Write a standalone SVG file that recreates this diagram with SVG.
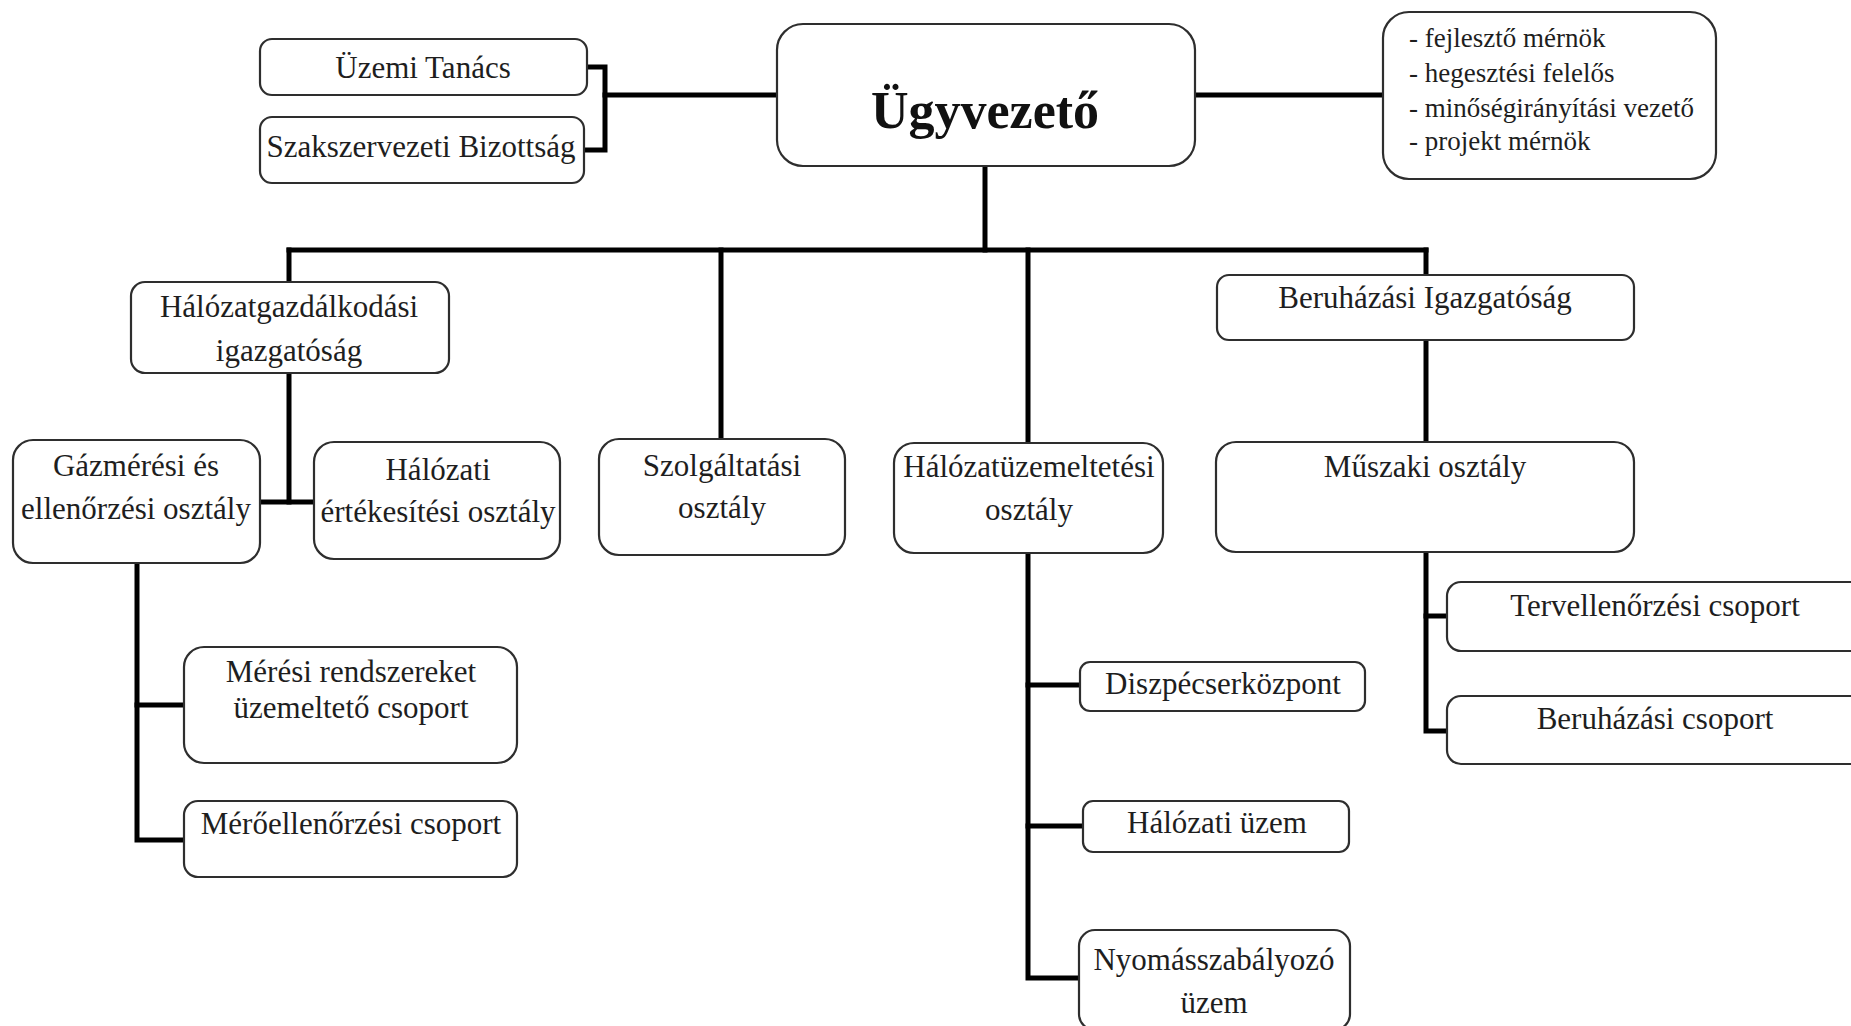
<svg xmlns="http://www.w3.org/2000/svg" width="1851" height="1026" viewBox="0 0 1851 1026">
<style>
.box{fill:#ffffff;stroke:#2e2e2e;stroke-width:2.2}
.t{font-family:"Liberation Serif","Times New Roman",serif;font-size:31px;fill:#1e1e1e;text-anchor:middle}
.l{font-family:"Liberation Serif","Times New Roman",serif;font-size:27px;fill:#1e1e1e}
.big{font-family:"Liberation Serif","Times New Roman",serif;font-size:52px;font-weight:bold;fill:#111;text-anchor:middle}
.c{fill:none;stroke:#000;stroke-width:5;stroke-linecap:square;stroke-linejoin:miter}
</style>
<rect width="1851" height="1026" fill="#ffffff"/>
<g id="connectors">
<path class="c" d="M587,67 H605 V150 H584"/>
<path class="c" d="M605,95 H778"/>
<path class="c" d="M1195,95 H1383"/>
<path class="c" d="M985,166 V250"/>
<path class="c" d="M289,250 H1426"/>
<path class="c" d="M289,250 V282"/>
<path class="c" d="M721,250 V439"/>
<path class="c" d="M1028,250 V443"/>
<path class="c" d="M1426,250 V275"/>
<path class="c" d="M289,373 V502"/>
<path class="c" d="M260,502 H314"/>
<path class="c" d="M137,563 V840 H184"/>
<path class="c" d="M137,705 H184"/>
<path class="c" d="M1028,553 V978 H1079"/>
<path class="c" d="M1028,685 H1080"/>
<path class="c" d="M1028,826 H1083"/>
<path class="c" d="M1426,340 V442"/>
<path class="c" d="M1426,552 V731 H1447"/>
<path class="c" d="M1426,616 H1447"/>
</g>
<g id="ugyvezeto">
<rect class="box" x="777" y="24" width="418" height="142" rx="26"/>
<text class="big" x="985" y="128">Ügyvezető</text>
</g>
<g id="uzemi-tanacs">
<rect class="box" x="260" y="39" width="327" height="56" rx="12"/>
<text class="t" x="423" y="78">Üzemi Tanács</text>
</g>
<g id="szakszervezeti-bizottsag">
<rect class="box" x="260" y="117" width="324" height="66" rx="12"/>
<text class="t" x="421" y="157">Szakszervezeti Bizottság</text>
</g>
<g id="munkatarsak">
<rect class="box" x="1383" y="12" width="333" height="167" rx="26"/>
<text class="l" x="1409" y="47">- fejlesztő mérnök</text>
<text class="l" x="1409" y="82">- hegesztési felelős</text>
<text class="l" x="1409" y="117">- minőségirányítási vezető</text>
<text class="l" x="1409" y="150">- projekt mérnök</text>
</g>
<g id="halozatgazdalkodasi">
<rect class="box" x="131" y="282" width="318" height="91" rx="14"/>
<text class="t" x="289" y="317">Hálózatgazdálkodási</text>
<text class="t" x="289" y="361">igazgatóság</text>
</g>
<g id="beruhazasi-igazgatosag">
<rect class="box" x="1217" y="275" width="417" height="65" rx="12"/>
<text class="t" x="1425" y="308">Beruházási Igazgatóság</text>
</g>
<g id="gazmeresi">
<rect class="box" x="13" y="440" width="247" height="123" rx="20"/>
<text class="t" x="136" y="476">Gázmérési és</text>
<text class="t" x="136" y="519">ellenőrzési osztály</text>
</g>
<g id="halozati-ertekesitesi">
<rect class="box" x="314" y="442" width="246" height="117" rx="20"/>
<text class="t" x="438" y="480">Hálózati</text>
<text class="t" x="438" y="522">értékesítési osztály</text>
</g>
<g id="szolgaltatasi">
<rect class="box" x="599" y="439" width="246" height="116" rx="20"/>
<text class="t" x="722" y="476">Szolgáltatási</text>
<text class="t" x="722" y="518">osztály</text>
</g>
<g id="halozatuzemeltetesi">
<rect class="box" x="894" y="443" width="269" height="110" rx="20"/>
<text class="t" x="1029" y="477">Hálózatüzemeltetési</text>
<text class="t" x="1029" y="520">osztály</text>
</g>
<g id="muszaki">
<rect class="box" x="1216" y="442" width="418" height="110" rx="20"/>
<text class="t" x="1425" y="477">Műszaki osztály</text>
</g>
<g id="meresi-rendszereket">
<rect class="box" x="184" y="647" width="333" height="116" rx="20"/>
<text class="t" x="351" y="682">Mérési rendszereket</text>
<text class="t" x="351" y="718">üzemeltető csoport</text>
</g>
<g id="meroellenorzesi">
<rect class="box" x="184" y="801" width="333" height="76" rx="14"/>
<text class="t" x="351" y="834">Mérőellenőrzési csoport</text>
</g>
<g id="diszpecserkozpont">
<rect class="box" x="1080" y="662" width="285" height="49" rx="10"/>
<text class="t" x="1223" y="694">Diszpécserközpont</text>
</g>
<g id="halozati-uzem">
<rect class="box" x="1083" y="801" width="266" height="51" rx="10"/>
<text class="t" x="1217" y="833">Hálózati üzem</text>
</g>
<g id="nyomasszabalyozo">
<rect class="box" x="1079" y="930" width="271" height="100" rx="16"/>
<text class="t" x="1214" y="970">Nyomásszabályozó</text>
<text class="t" x="1214" y="1013">üzem</text>
</g>
<g id="tervellenorzesi">
<rect class="box" x="1447" y="582" width="420" height="69" rx="14"/>
<text class="t" x="1655" y="616">Tervellenőrzési csoport</text>
</g>
<g id="beruhazasi-csoport">
<rect class="box" x="1447" y="696" width="420" height="68" rx="14"/>
<text class="t" x="1655" y="729">Beruházási csoport</text>
</g>
</svg>
